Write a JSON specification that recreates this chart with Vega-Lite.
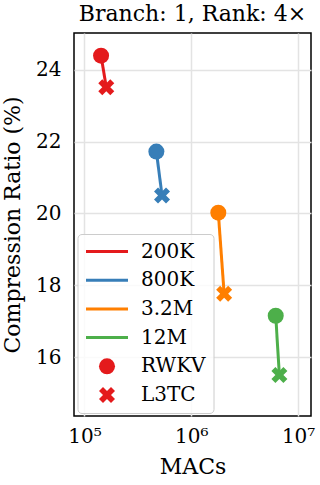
{
  "$schema": "https://vega.github.io/schema/vega-lite/v6.json",
  "autosize": "none",
  "width": 237,
  "height": 383,
  "padding": {"left": 74, "top": 33, "right": 9, "bottom": 69},
  "background": "white",
  "title": {
    "text": "Branch: 1, Rank: 4×",
    "font": "DejaVu Serif",
    "fontSize": 22,
    "fontWeight": "normal",
    "color": "black",
    "baseline": "bottom",
    "offset": -15,
    "anchor": "middle"
  },
  "config": {
    "view": {"stroke": "black", "strokeWidth": 1.5},
    "font": "DejaVu Serif",
    "axis": {
      "labelFont": "DejaVu Serif",
      "titleFont": "DejaVu Serif",
      "labelFontSize": 20,
      "titleFontSize": 22,
      "titleFontWeight": "normal",
      "labelColor": "black",
      "titleColor": "black",
      "tickSize": 0,
      "domain": false,
      "grid": true,
      "gridColor": "#e3e3e3",
      "gridWidth": 1.5
    }
  },
  "data": {
    "values": [
      {"size": "200K", "model": "RWKV", "macs": 143000, "ratio": 24.39},
      {"size": "200K", "model": "L3TC", "macs": 160000, "ratio": 23.51},
      {"size": "800K", "model": "RWKV", "macs": 471000, "ratio": 21.72},
      {"size": "800K", "model": "L3TC", "macs": 532000, "ratio": 20.50},
      {"size": "3.2M", "model": "RWKV", "macs": 1790000, "ratio": 20.02},
      {"size": "3.2M", "model": "L3TC", "macs": 2030000, "ratio": 17.76},
      {"size": "12M", "model": "RWKV", "macs": 6170000, "ratio": 17.15},
      {"size": "12M", "model": "L3TC", "macs": 6680000, "ratio": 15.50}
    ]
  },
  "encoding": {
    "x": {
      "field": "macs",
      "type": "quantitative",
      "scale": {"type": "log", "domain": [79800, 13200000], "nice": false},
      "axis": {
        "title": "MACs",
        "values": [100000, 1000000, 10000000],
        "labelExpr": "datum.value == 100000 ? '10⁵' : datum.value == 1000000 ? '10⁶' : '10⁷'",
        "labelPadding": 10,
        "titlePadding": 10
      }
    },
    "y": {
      "field": "ratio",
      "type": "quantitative",
      "scale": {"domain": [14.36, 25.02], "nice": false, "zero": false},
      "axis": {
        "title": "Compression Ratio (%)",
        "values": [16, 18, 20, 22, 24],
        "labelPadding": 13,
        "titlePadding": 11
      }
    }
  },
  "layer": [
    {
      "mark": {"type": "line", "strokeWidth": 3},
      "encoding": {
        "stroke": {
          "field": "size",
          "type": "nominal",
          "scale": {"domain": ["200K", "800K", "3.2M", "12M"], "range": ["#e41a1c", "#377eb8", "#ff7f00", "#4daf4a"]},
          "legend": null
        }
      }
    },
    {
      "mark": {"type": "point", "filled": true, "opacity": 1, "size": 256, "strokeWidth": 0},
      "encoding": {
        "color": {
          "field": "size",
          "type": "nominal",
          "scale": {
            "domain": ["200K", "800K", "3.2M", "12M", "RWKV", "L3TC"],
            "range": ["#e41a1c", "#377eb8", "#ff7f00", "#4daf4a", "#e41a1c", "#e41a1c"]
          },
          "legend": {
            "title": null,
            "orient": "none",
            "legendX": 3.5,
            "legendY": 201,
            "padding": 7.5,
            "clipHeight": 20,
            "fillColor": "rgba(255,255,255,0.8)",
            "strokeColor": "#cccccc",
            "cornerRadius": 4,
            "labelFont": "DejaVu Serif",
            "labelFontSize": 20,
            "labelColor": "black",
            "symbolSize": 256,
            "symbolStrokeWidth": 0,
            "symbolOffset": 12,
            "labelOffset": 24,
            "rowPadding": 8.7
          }
        },
        "shape": {
          "field": "model",
          "type": "nominal",
          "scale": {
            "domain": ["200K", "800K", "3.2M", "12M", "RWKV", "L3TC"],
            "range": [
              "M-2.625,-0.19L2.625,-0.19L2.625,0.19L-2.625,0.19Z",
              "M-2.625,-0.19L2.625,-0.19L2.625,0.19L-2.625,0.19Z",
              "M-2.625,-0.19L2.625,-0.19L2.625,0.19L-2.625,0.19Z",
              "M-2.625,-0.19L2.625,-0.19L2.625,0.19L-2.625,0.19Z",
              "circle",
              "M-0.5,-1L0,-0.5L0.5,-1L1,-0.5L0.5,0L1,0.5L0.5,1L0,0.5L-0.5,1L-1,0.5L-0.5,0L-1,-0.5Z"
            ]
          },
          "legend": {
            "title": null,
            "orient": "none",
            "legendX": 3.5,
            "legendY": 201,
            "padding": 7.5,
            "clipHeight": 20,
            "fillColor": "rgba(255,255,255,0.8)",
            "strokeColor": "#cccccc",
            "cornerRadius": 4,
            "labelFont": "DejaVu Serif",
            "labelFontSize": 20,
            "labelColor": "black",
            "symbolSize": 256,
            "symbolStrokeWidth": 0,
            "symbolOffset": 12,
            "labelOffset": 24,
            "rowPadding": 8.7
          }
        }
      }
    }
  ]
}
